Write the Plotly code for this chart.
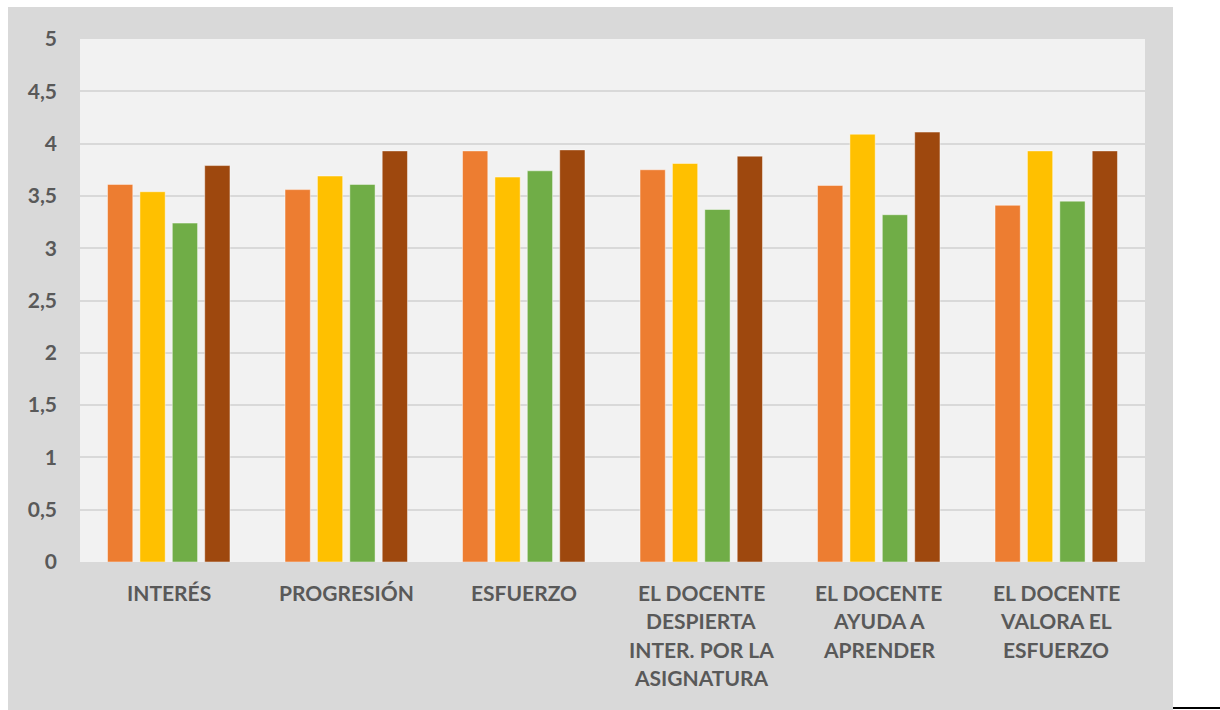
import plotly.graph_objects as go

# Categories (each entry split into its display lines)
categories = [
    ["INTERÉS"],
    ["PROGRESIÓN"],
    ["ESFUERZO"],
    ["EL DOCENTE", "DESPIERTA", "INTER. POR LA", "ASIGNATURA"],
    ["EL DOCENTE", "AYUDA A", "APRENDER"],
    ["EL DOCENTE", "VALORA EL", "ESFUERZO"],
]

serie_1 = [3.61, 3.56, 3.93, 3.75, 3.60, 3.41]
serie_2 = [3.54, 3.69, 3.68, 3.81, 4.09, 3.93]
serie_3 = [3.24, 3.61, 3.74, 3.37, 3.32, 3.45]
serie_4 = [3.79, 3.93, 3.94, 3.88, 4.11, 3.93]

y_tick_values = [0, 0.5, 1, 1.5, 2, 2.5, 3, 3.5, 4, 4.5, 5]
y_tick_labels = ["0", "0,5", "1", "1,5", "2", "2,5", "3", "3,5", "4", "4,5", "5"]

series = [
    ("Serie 1", serie_1, "#ED7D31"),
    ("Serie 2", serie_2, "#FFC000"),
    ("Serie 3", serie_3, "#70AD47"),
    ("Serie 4", serie_4, "#9E480E"),
]

W, H = 1220, 710
ML, MR, MT, MB = 80, 75, 39, 148
PW, PH = W - ML - MR, H - MT - MB


def px_x(px):
    return (px - ML) / PW


def px_y(py):
    return (H - MB - py) / PH


FONT = "Lato"
TXT = "#595959"

x_idx = list(range(len(categories)))

fig = go.Figure()
for name, vals, color in series:
    fig.add_trace(go.Bar(
        x=x_idx, y=vals, name=name,
        marker=dict(color=color, line=dict(color="rgba(255,255,255,0.45)", width=1)),
        hoverinfo="x+y",
    ))

# category labels, one annotation per line
annotations = []
first_line = px_y(592)
step = 28.6 / PH
for i, lines in enumerate(categories):
    for j, line in enumerate(lines):
        annotations.append(dict(
            x=i, xref="x", y=first_line - j * step, yref="paper",
            text="<b>" + line + "</b>", showarrow=False,
            xanchor="center", yanchor="middle",
            font=dict(family=FONT, size=21, color=TXT),
        ))

shapes = [
    # outer chart frame
    dict(type="rect", xref="paper", yref="paper", layer="below",
         x0=px_x(8), x1=px_x(1173), y0=px_y(712), y1=px_y(7),
         fillcolor="#D9D9D9", line=dict(width=0)),
    # plot area
    dict(type="rect", xref="paper", yref="paper", layer="below",
         x0=0, x1=1, y0=0, y1=1,
         fillcolor="#F2F2F2", line=dict(width=0)),
    # short rule at the bottom right
    dict(type="line", xref="paper", yref="paper",
         x0=px_x(1173), x1=px_x(1220), y0=px_y(708), y1=px_y(708),
         line=dict(color="black", width=2)),
]

fig.update_layout(
    width=W, height=H,
    margin=dict(l=ML, r=MR, t=MT, b=MB, pad=0),
    paper_bgcolor="white",
    plot_bgcolor="rgba(0,0,0,0)",
    barmode="group",
    bargap=0.27,
    bargroupgap=0.22,
    showlegend=False,
    annotations=annotations,
    shapes=shapes,
    xaxis=dict(
        range=[-0.5, len(categories) - 0.5],
        showticklabels=False, showgrid=False, zeroline=False, showline=False,
        fixedrange=True,
    ),
    yaxis=dict(
        range=[0, 5],
        tickvals=y_tick_values, ticktext=["<b>" + t + "</b>" for t in y_tick_labels],
        tickfont=dict(family=FONT, size=21, color=TXT),
        ticklabelstandoff=22,
        showgrid=True, gridcolor="#D9D9D9", gridwidth=2,
        zeroline=False, showline=False,
        fixedrange=True,
    ),
)

fig.write_html("out.html")
